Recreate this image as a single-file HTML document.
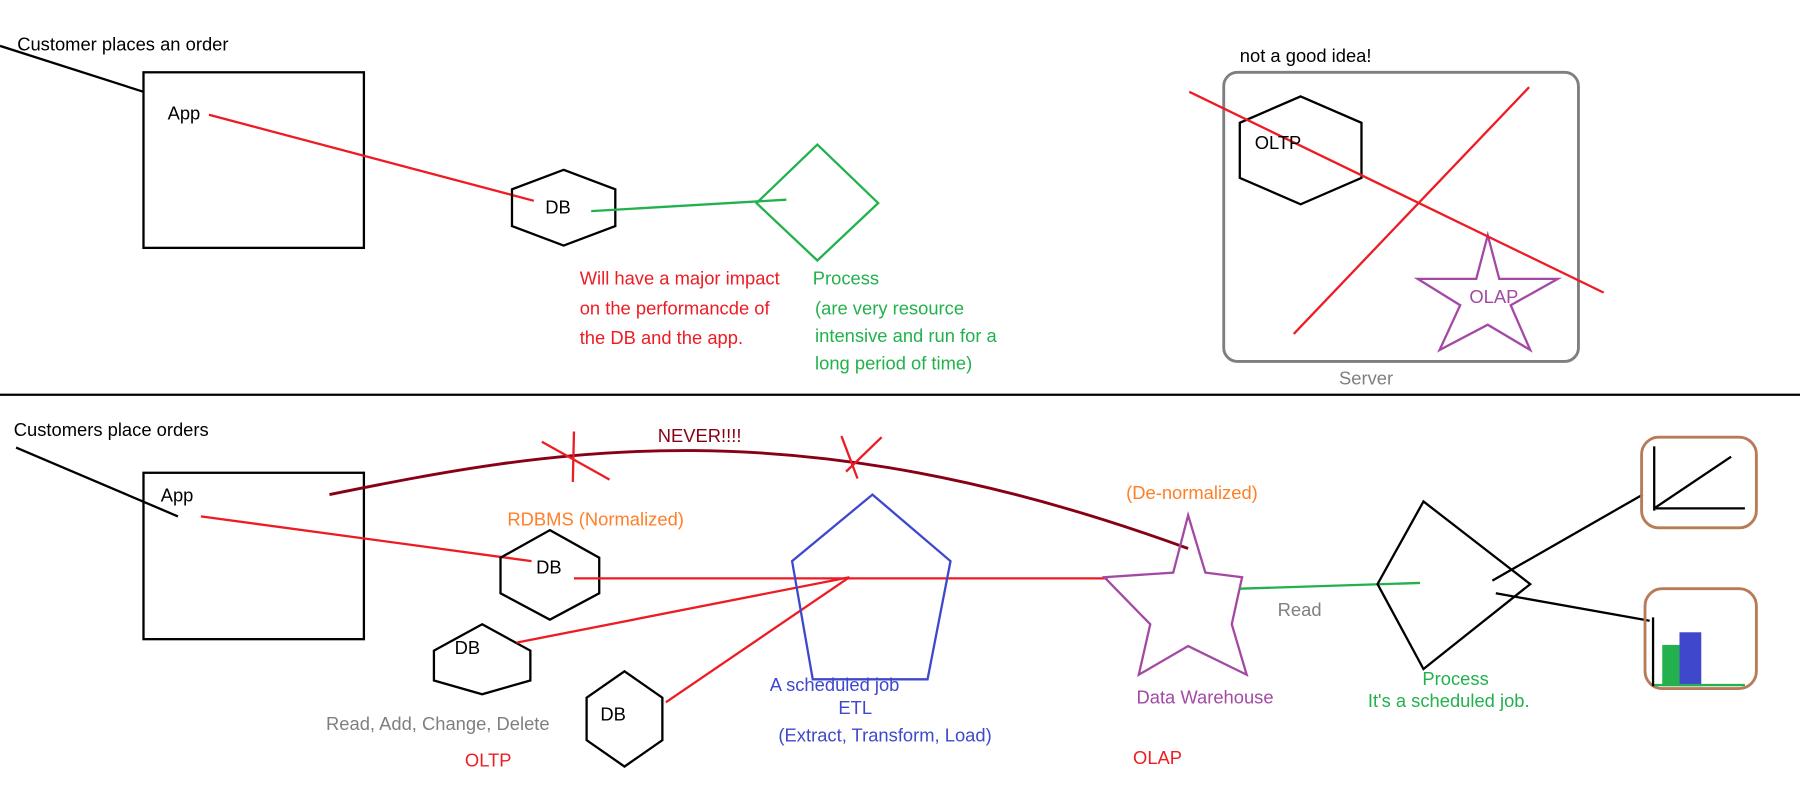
<!DOCTYPE html>
<html><head><meta charset="utf-8"><style>
html,body{margin:0;padding:0;background:#fff;}
svg{display:block;}
text{font-family:"Liberation Sans",sans-serif;font-size:16px;}
</style></head><body>
<svg width="1800" height="809" viewBox="0 0 1568 705" preserveAspectRatio="none" xmlns="http://www.w3.org/2000/svg">
<g fill="none" stroke-width="2">
<!-- TOP -->
<line x1="0" y1="40" x2="125" y2="80" stroke="#000"/>
<rect x="125" y="63" width="192" height="153" stroke="#000"/>
<line x1="182" y1="100" x2="465" y2="175" stroke="#ed1c24"/>
<polygon points="491,148 536,165 536,197 491,214 446,197 446,165" stroke="#000"/>
<line x1="515" y1="184" x2="685" y2="174" stroke="#22b14c"/>
<polygon points="712,126 765,177 712,227 659,177" stroke="#22b14c"/>
<rect x="1066" y="63" width="309" height="252" rx="12" stroke="#7f7f7f" stroke-width="2.5"/>
<polygon points="1133,84 1186,107 1186,155 1133,178 1080,155 1080,107" stroke="#000"/>
<polygon points="1296,205 1306,243 1357,243 1316,266 1333,305 1296,283 1254,305 1272,266 1235,243 1286,243" stroke="#a349a4"/>
<line x1="1036" y1="80" x2="1397" y2="255" stroke="#ed1c24"/>
<line x1="1332" y1="76" x2="1127" y2="291" stroke="#ed1c24"/>
<line x1="0" y1="344" x2="1568" y2="344" stroke="#000"/>
<!-- BOTTOM -->
<line x1="14" y1="390" x2="155" y2="450" stroke="#000"/>
<rect x="125" y="412" width="192" height="145" stroke="#000"/>
<line x1="175" y1="450" x2="463" y2="489" stroke="#ed1c24"/>
<polygon points="479,462 522,486 522,517 479,540 436,517 436,486" stroke="#000"/>
<polygon points="420,544 462,567 462,593 420,605 378,593 378,567" stroke="#000"/>
<polygon points="544,585 577,608 577,645 544,668 511,645 511,608" stroke="#000"/>
<line x1="500" y1="504" x2="965" y2="504" stroke="#ed1c24"/>
<line x1="450" y1="560" x2="740" y2="503" stroke="#ed1c24"/>
<line x1="580" y1="612" x2="740" y2="503" stroke="#ed1c24"/>
<polygon points="760,431 828,489 808,592 708,592 690,489" stroke="#3f48cc"/>
<path d="M287,431 C480,392 690,352 1035,478" stroke="#880015" stroke-width="2.5"/>
<line x1="500" y1="376" x2="499" y2="420" stroke="#ed1c24"/>
<line x1="472" y1="385" x2="531" y2="418" stroke="#ed1c24"/>
<line x1="733" y1="380" x2="747" y2="417" stroke="#ed1c24"/>
<line x1="768" y1="381" x2="737" y2="411" stroke="#ed1c24"/>
<polygon points="1035,449 1022,499 962,503 1002,544 992,588 1035,563 1086,588 1073,544 1082,503 1050,499" stroke="#a349a4"/>
<line x1="1080" y1="513" x2="1237" y2="508" stroke="#22b14c"/>
<polygon points="1240,437 1333,509 1240,583 1200,509" stroke="#000"/>
<line x1="1300" y1="506" x2="1431" y2="431" stroke="#000"/>
<line x1="1303" y1="517" x2="1437" y2="541" stroke="#000"/>
<rect x="1430" y="381" width="100" height="79" rx="15" stroke="#b97a57" stroke-width="2.5"/>
<line x1="1441" y1="389" x2="1441" y2="445" stroke="#000"/>
<line x1="1441" y1="443" x2="1520" y2="443" stroke="#000"/>
<line x1="1441" y1="443" x2="1508" y2="398" stroke="#000"/>
<rect x="1433" y="513" width="97" height="87" rx="15" stroke="#b97a57" stroke-width="2.5"/>
</g>
<rect x="1448" y="562" width="15" height="36" fill="#22b14c"/>
<rect x="1463" y="551" width="19" height="47" fill="#3f48cc"/>
<line x1="1440" y1="597" x2="1520" y2="597" stroke="#22b14c" stroke-width="2"/>
<line x1="1440" y1="538" x2="1440" y2="598" stroke="#000" stroke-width="2"/>

<text x="15" y="44">Customer places an order</text>
<text x="146" y="104">App</text>
<text x="475" y="186">DB</text>
<text fill="#ed1c24"><tspan x="505" y="248">Will have a major impact</tspan><tspan x="505" y="274">on the performancde of</tspan><tspan x="505" y="300">the DB and the app.</tspan></text>
<text fill="#22b14c"><tspan x="708" y="248">Process</tspan><tspan x="710" y="274">(are very resource</tspan><tspan x="710" y="298">intensive and run for a</tspan><tspan x="710" y="322">long period of time)</tspan></text>
<text x="1080" y="54">not a good idea!</text>
<text x="1093" y="130">OLTP</text>
<text x="1280" y="264" fill="#a349a4">OLAP</text>
<text x="1190" y="335" fill="#7f7f7f" text-anchor="middle">Server</text>

<text x="12" y="380">Customers place orders</text>
<text x="140" y="437">App</text>
<text x="573" y="385" fill="#880015">NEVER!!!!</text>
<text x="442" y="458" fill="#ff7f27">RDBMS (Normalized)</text>
<text x="981" y="435" fill="#ff7f27">(De-normalized)</text>
<text x="467" y="500">DB</text>
<text x="396" y="570">DB</text>
<text x="523" y="628">DB</text>
<text x="284" y="636" fill="#7f7f7f">Read, Add, Change, Delete</text>
<text x="405" y="668" fill="#ed1c24">OLTP</text>
<text fill="#3f48cc" text-anchor="middle"><tspan x="727" y="602">A scheduled job</tspan><tspan x="745" y="622">ETL</tspan><tspan x="771" y="646">(Extract, Transform, Load)</tspan></text>
<text x="990" y="613" fill="#a349a4">Data Warehouse</text>
<text x="987" y="666" fill="#ed1c24">OLAP</text>
<text x="1113" y="537" fill="#7f7f7f">Read</text>
<text fill="#22b14c" text-anchor="middle"><tspan x="1268" y="597">Process</tspan><tspan x="1262" y="616">It's a scheduled job.</tspan></text>
</svg>
</body></html>
